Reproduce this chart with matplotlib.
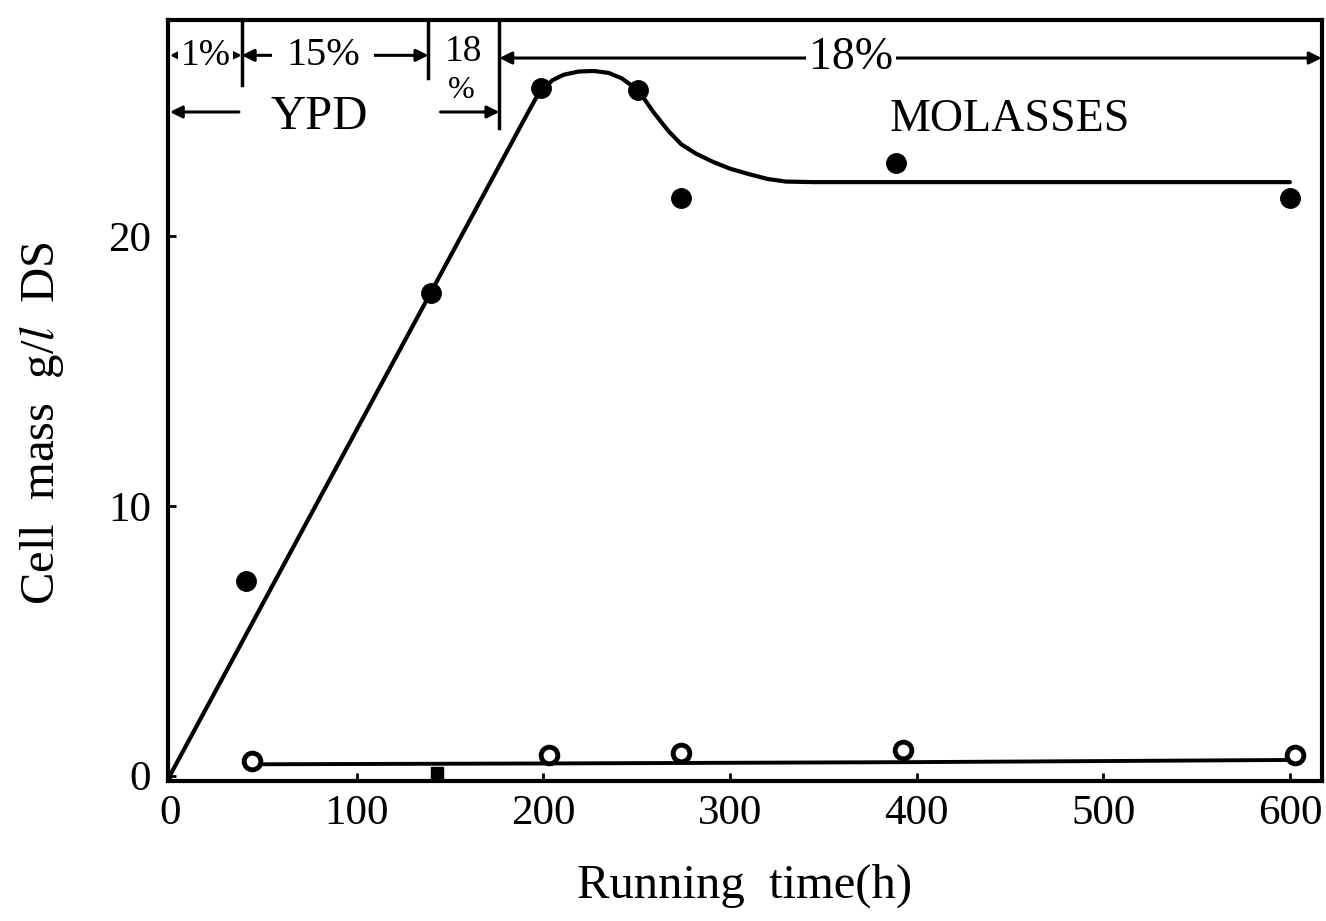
import matplotlib
matplotlib.use("Agg")
import matplotlib.pyplot as plt

# Данные
# Cell mass (закрашенные точки)
t_cell = [41, 140, 199, 251, 274, 389, 600]
m_cell = [7.2, 17.9, 25.5, 25.4, 21.4, 22.7, 21.4]

# открытые точки (нижняя серия)
t_open = [44, 203, 274, 393, 603]
m_open = [0.55, 0.75, 0.85, 0.95, 0.75]
t_small = [143]
m_small = [0.1]

# сглаженная кривая по точкам с рисунка
t_curve = [0, 192, 196, 200, 205, 211, 219, 227, 235, 242, 251, 259, 267, 274,
           282, 291, 300, 310, 320, 330, 345, 600]
m_curve = [0, 24.6, 25.1, 25.45, 25.78, 25.98, 26.1, 26.12, 26.05, 25.85, 25.4,
           24.6, 23.9, 23.4, 23.05, 22.75, 22.5, 22.3, 22.12, 22.02, 22.0, 22.0]

# нижняя линия
t_base = [44, 200, 400, 600]
m_base = [0.42, 0.45, 0.5, 0.58]

x_ticks = [0, 100, 200, 300, 400, 500, 600]
y_ticks = [0, 10, 20]

plt.rcParams["font.family"] = ["Liberation Serif", "DejaVu Serif"]
plt.rcParams["mathtext.fontset"] = "stix"

fig = plt.figure(figsize=(13.26, 9.21), dpi=100)
ax = fig.add_axes([0.1267, 0.152, 0.870, 0.826])

ax.plot(t_curve, m_curve, color="black", lw=3, solid_capstyle="round",
        solid_joinstyle="round")
ax.plot(t_base, m_base, color="black", lw=2.8)
ax.plot(t_cell, m_cell, "o", color="black", ms=14)
ax.plot(t_open, m_open, "o", mfc="white", mec="black", mew=3.5, ms=12)
ax.plot(t_small, m_small, "s", color="black", ms=8)

ax.set_xlim(-1, 617)
ax.set_ylim(-0.2, 28.0)
ax.set_xticks(x_ticks)
ax.set_yticks(y_ticks)
ax.tick_params(direction="in", length=6, width=2, labelsize=31)
ax.tick_params(axis="x", pad=10)
ax.tick_params(axis="y", pad=12)
for s in ax.spines.values():
    s.set_linewidth(3)

ax.set_xlabel("Running  time(h)", fontsize=35, labelpad=22)
ax.set_ylabel("Cell  mass  g/$l$  DS", fontsize=35, labelpad=18)
ax.yaxis.set_label_coords(-0.088, 0.47)

# разделители вверху
for xd, yb in [(38.5, 25.6), (138.5, 25.85), (176.5, 24.0)]:
    ax.plot([xd, xd], [28.0, yb], color="black", lw=2.5)

arr = dict(arrowstyle="<|-|>", color="black", lw=2.2, mutation_scale=18,
           shrinkA=0, shrinkB=0)
arr1 = dict(arrowstyle="-|>", color="black", lw=2.2, mutation_scale=18,
            shrinkA=0, shrinkB=0)
wb = dict(facecolor="white", edgecolor="none", pad=2)

ax.annotate("", xy=(0, 26.7), xytext=(38.5, 26.7), arrowprops=arr)
ax.text(19, 26.7, "1%", fontsize=27, ha="center", va="center", bbox=wb)

ax.annotate("", xy=(38.5, 26.7), xytext=(138.5, 26.7), arrowprops=arr)
ax.text(82, 26.7, "15%", fontsize=29, ha="center", va="center",
        bbox=dict(facecolor="white", edgecolor="none", pad=10))

ax.text(157, 26.85, "18", fontsize=27, ha="center", va="center")
ax.text(156, 25.4, "%", fontsize=23, ha="center", va="center")
ax.annotate("", xy=(176.5, 24.6), xytext=(145, 24.6), arrowprops=arr1)

ax.annotate("", xy=(176.5, 26.6), xytext=(617, 26.6), arrowprops=arr)
ax.text(365, 26.6, "18%", fontsize=33, ha="center", va="center", bbox=wb)

ax.annotate("", xy=(0, 24.6), xytext=(37, 24.6), arrowprops=arr1)
ax.text(80, 24.4, "YPD", fontsize=35, ha="center", va="center")
ax.text(450, 24.3, "MOLASSES", fontsize=33, ha="center", va="center")

fig.savefig("out.png", dpi=100)
